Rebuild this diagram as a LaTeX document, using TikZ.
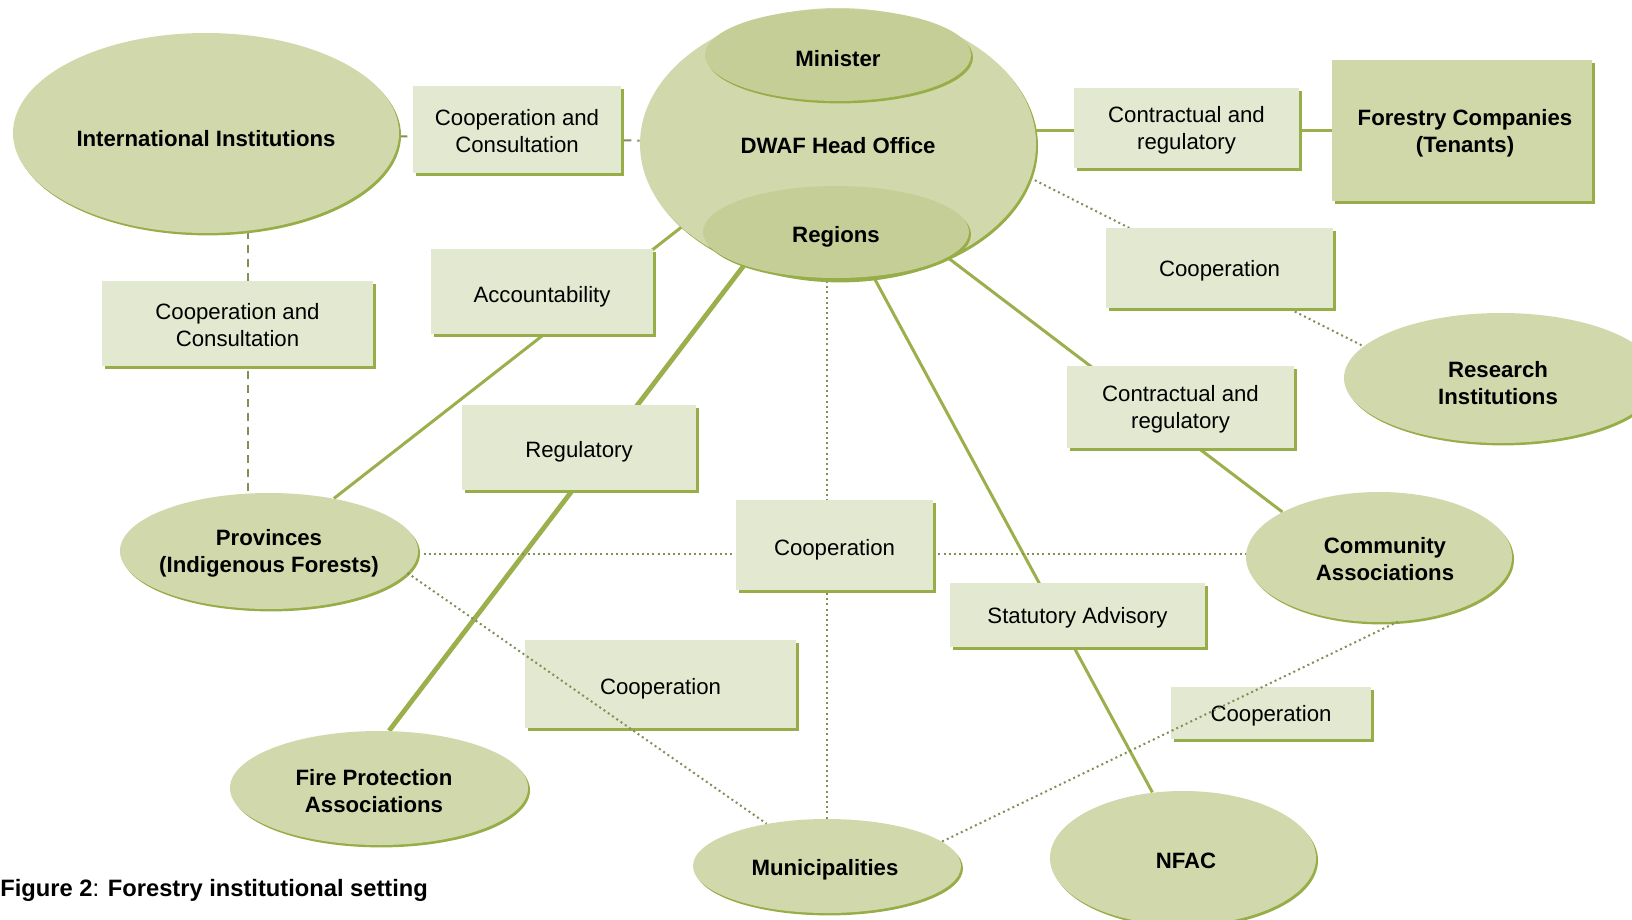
\documentclass[tikz,border=0pt]{standalone}
\usepackage{fontspec}
\setmainfont{Liberation Sans}
\usetikzlibrary{shapes.geometric,shadows,backgrounds}
\definecolor{ellfill}{RGB}{209,217,172}
\definecolor{innfill}{RGB}{197,206,150}
\definecolor{boxfill}{RGB}{227,232,208}
\definecolor{fcfill}{RGB}{208,216,170}
\definecolor{edge}{RGB}{151,173,71}
\definecolor{linec}{RGB}{155,176,76}
\definecolor{dotc}{RGB}{128,145,88}
% shape node (empty) + named text node on it
\newcommand\myshape[7]{%
  \node[#1, minimum width=#4, minimum height=#5] (#2) at (#3) {};
  \node[#1text, yshift=#7] (#2-t) at (#2) {#6};}
\begin{document}
\begin{tikzpicture}[x=0.5pt,y=-0.5pt,
  lbl/.style={font=\fontsize{11.1}{13.5}\selectfont, align=center, text=black, inner sep=0pt},
  ell/.style={ellipse, inner sep=0pt, fill=ellfill,
    general shadow={fill=edge, shadow xshift=1pt, shadow yshift=-1.2pt}},
  elltext/.style={lbl, font=\bfseries\fontsize{11.1}{13.5}\selectfont},
  inn/.style={ell, fill=innfill},
  inntext/.style={elltext},
  bx/.style={rectangle, inner sep=0pt, fill=boxfill,
    general shadow={fill=edge, shadow xshift=1.4pt, shadow yshift=-1.4pt}},
  bxtext/.style={lbl},
  fcbox/.style={bx, fill=fcfill},
  fcboxtext/.style={elltext},
  solidl/.style={draw=linec, line width=1.5pt},
  thickl/.style={draw=linec, line width=2.4pt},
  dotl/.style={draw=dotc, line width=1pt, dash pattern=on 1pt off 1.6pt},
  dashl/.style={draw=dotc, line width=1pt, dash pattern=on 4pt off 3pt}]
\clip (0,0) rectangle (1632,920);

% ellipses
\myshape{ell}{Intl}{206,133}{193pt}{100pt}{International Institutions}{-3pt}
\myshape{ell}{DWAF}{838,144}{198pt}{136pt}{DWAF Head Office}{-1pt}
\myshape{inn}{Min}{838,55}{133pt}{46pt}{Minister}{-2pt}
\myshape{inn}{Reg}{836,232}{133pt}{46pt}{Regions}{-2.5pt}
\myshape{ell}{Res}{1501,378}{157pt}{65pt}{Research\\Institutions}{-2.5pt, xshift=-1.5pt}
\myshape{ell}{Prov}{269,551}{149pt}{58pt}{Provinces\\(Indigenous Forests)}{-1pt}
\myshape{ell}{Comm}{1379,557}{133pt}{65pt}{Community\\Associations}{-1pt, xshift=3pt}
\myshape{ell}{Fire}{379,788}{149pt}{57pt}{Fire Protection\\Associations}{-1.5pt, xshift=-2.5pt}
\myshape{ell}{Muni}{827,866}{134pt}{47pt}{Municipalities}{-2pt, xshift=-1pt}
\myshape{ell}{NFAC}{1183,858}{133pt}{67pt}{NFAC}{-1.5pt, xshift=1.5pt}

% boxes
\myshape{bx}{CC1}{517,129.5}{104pt}{43.5pt}{Cooperation and\\Consultation}{-1pt}
\myshape{bx}{CR1}{1186.5,128}{112.5pt}{40pt}{Contractual and\\regulatory}{-1pt}
\myshape{fcbox}{FC}{1462,130.5}{130pt}{70.5pt}{Forestry Companies\\(Tenants)}{-1.5pt, xshift=1.5pt}
\myshape{bx}{Co1}{1219.5,268}{113.5pt}{40pt}{Cooperation}{-1.5pt}
\myshape{bx}{CC2}{237.5,323.5}{135.5pt}{42.5pt}{Cooperation and\\Consultation}{-1pt}
\myshape{bx}{Acc}{542,291.5}{111pt}{42.5pt}{Accountability}{-2.5pt}
\myshape{bx}{Regu}{579,447.5}{117pt}{42.5pt}{Regulatory}{-2pt}
\myshape{bx}{CR2}{1180.5,407}{113.5pt}{41pt}{Contractual and\\regulatory}{-1pt}
\myshape{bx}{CoC}{834.5,545}{98.5pt}{45pt}{Cooperation}{-2.5pt}
\myshape{bx}{SA}{1077.5,615}{127.5pt}{32pt}{Statutory Advisory}{-1.5pt}
\myshape{bx}{CoLL}{660.5,684}{135.5pt}{44pt}{Cooperation}{-2.5pt}
\myshape{bx}{CoLR}{1271,713}{100pt}{26pt}{Cooperation}{-1.5pt}

% caption
\node[anchor=west, inner sep=0pt, font=\bfseries\fontsize{11.85}{14}\selectfont] (cap) at (0,890) {Figure 2\textmd{:} Forestry institutional setting};

% connectors behind
\coordinate (vx) at ([xshift=5pt]CC2.north);
\coordinate (hy) at ([yshift=-1.5pt]Prov.east);
\begin{scope}[on background layer]
\fill[white] (0,0) rectangle (1632,920);
\draw[dashl] (Intl) -- (DWAF);
\draw[dashl] (vx |- Intl.center) -- (vx |- Prov.center);
\draw[solidl] (FC.west) -- (FC.west -| DWAF.center);
\draw[solidl] (DWAF.208) -- (Prov.39);
\draw[thickl] (Reg.200) -- (Fire.80);
\draw[solidl] (Reg.310) -- (NFAC.115);
\draw[solidl] (DWAF.314) -- (Comm.155);
\draw[dotl] (DWAF.350) -- (Res.167);
\draw[dotl] (hy) -- (hy -| Comm.center);
\draw[dotl] (Muni.north) -- (Muni.north |- Reg.center);
\end{scope}
% connectors on top
\draw[dotl] (Prov.351) -- (Muni.145);
\draw[dotl] (Muni.12) -- (Comm.286);
\end{tikzpicture}
\end{document}
